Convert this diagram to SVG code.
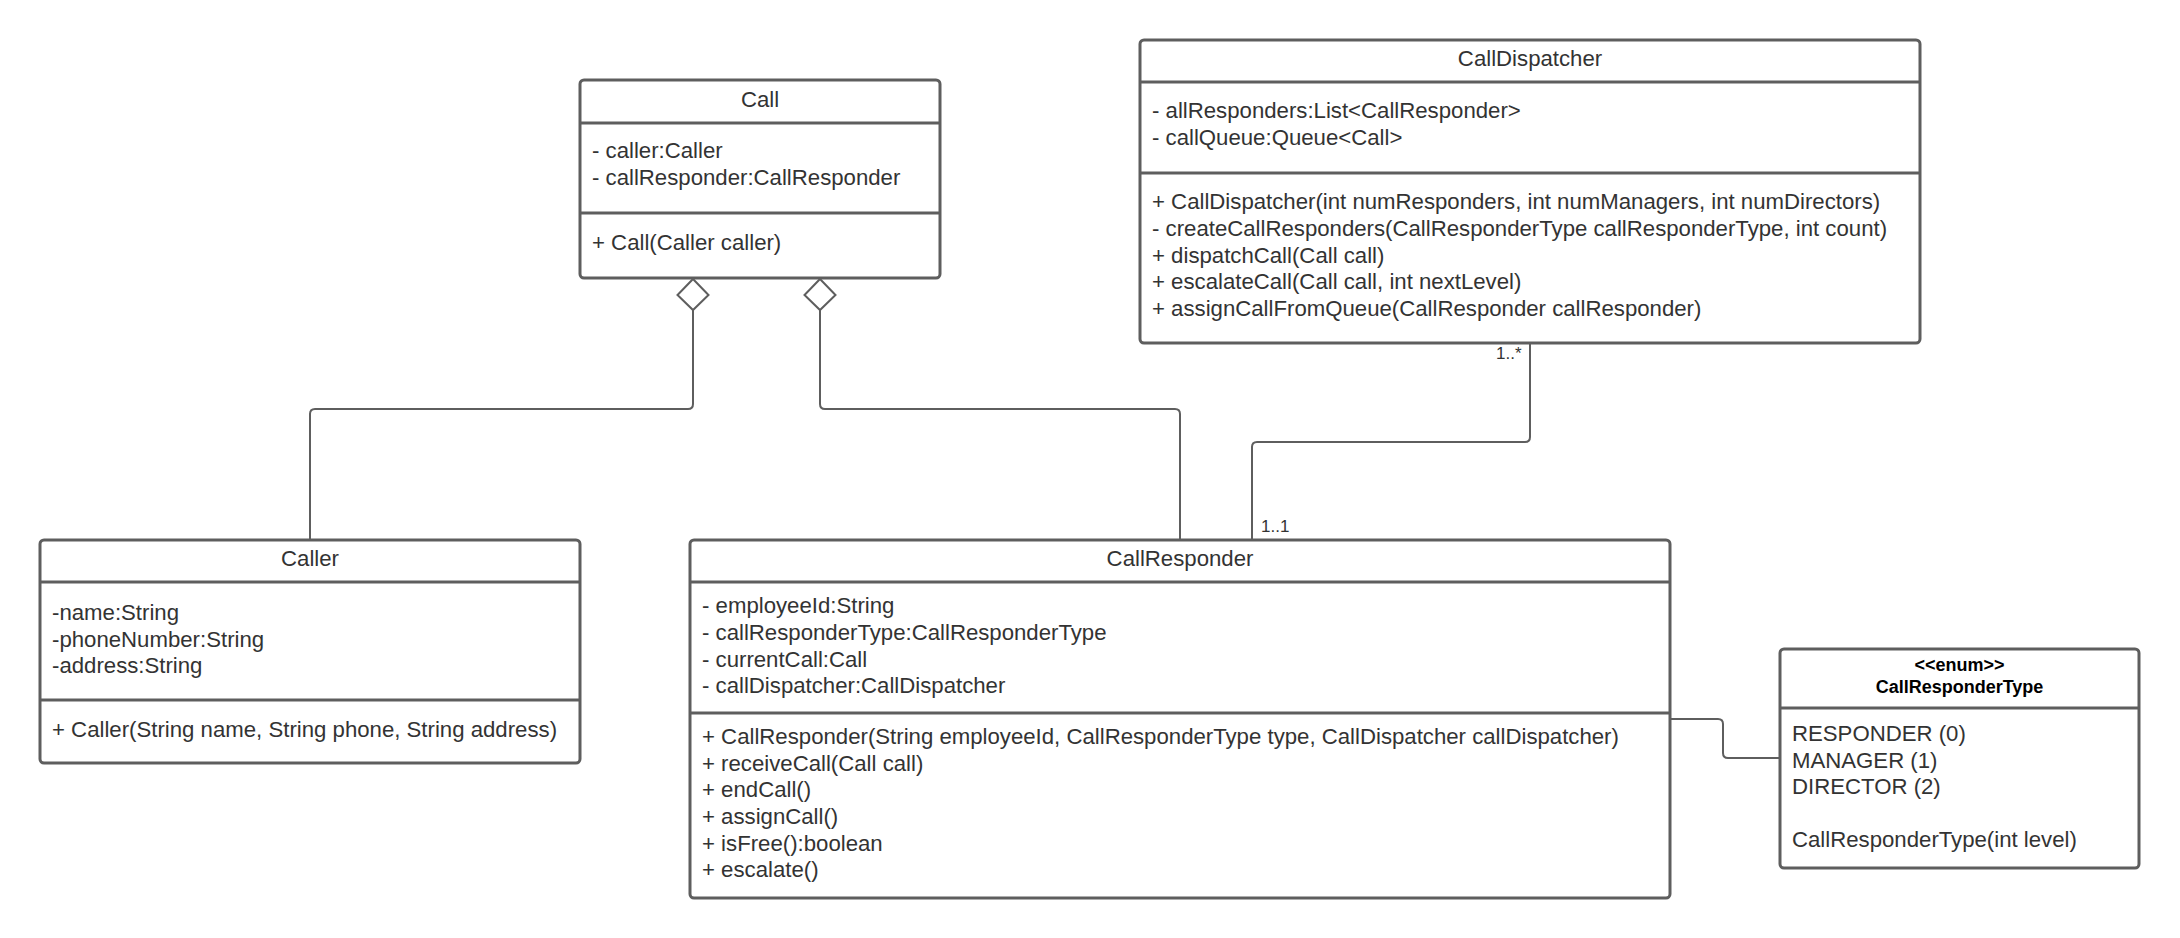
<svg xmlns="http://www.w3.org/2000/svg" width="2180" height="938" viewBox="0 0 2180 938">
<style>
.box{fill:#ffffff;stroke:#5e5e5e;stroke-width:3}
.sep{stroke:#5e5e5e;stroke-width:3}
.t{font-family:"Liberation Sans",Arial,sans-serif;font-size:22.2px;fill:#333333}
.c{text-anchor:middle}
.b{font-family:"Liberation Sans",Arial,sans-serif;font-size:18px;font-weight:bold;fill:#000000;text-anchor:middle}
.lbl{font-family:"Liberation Sans",Arial,sans-serif;font-size:17px;fill:#333333}
.conn{fill:none;stroke:#5e5e5e;stroke-width:2}
.dia{fill:#ffffff;stroke:#5e5e5e;stroke-width:2}
</style>
<rect width="2180" height="938" fill="#ffffff"/>
<g id="connectors">
<path class="conn" d="M310,540 V414 Q310,409 315,409 H688 Q693,409 693,404 V310"/>
<polygon class="dia" points="693,279 708.5,295 693,310 677.5,295"/>
<path class="conn" d="M1180,540 V414 Q1180,409 1175,409 H825 Q820,409 820,404 V310"/>
<polygon class="dia" points="820,279 835.5,295 820,310 804.5,295"/>
<path class="conn" d="M1530,343 V437 Q1530,442 1525,442 H1257 Q1252,442 1252,447 V540"/>
<text class="lbl" x="1496" y="359">1..*</text>
<text class="lbl" x="1261" y="532">1..1</text>
<path class="conn" d="M1670,719 H1718 Q1723,719 1723,724 V753 Q1723,758 1728,758 H1780"/>
</g>
<g id="call">
<rect class="box" x="580" y="80" width="360" height="198" rx="4"/>
<line class="sep" x1="580" y1="123" x2="940" y2="123"/>
<line class="sep" x1="580" y1="213" x2="940" y2="213"/>
<text class="t c" x="760" y="107">Call</text>
<text class="t" x="592" y="158">- caller:Caller</text>
<text class="t" x="592" y="185">- callResponder:CallResponder</text>
<text class="t" x="592" y="250">+ Call(Caller caller)</text>
</g>
<g id="calldispatcher">
<rect class="box" x="1140" y="40" width="780" height="303" rx="4"/>
<line class="sep" x1="1140" y1="82" x2="1920" y2="82"/>
<line class="sep" x1="1140" y1="173" x2="1920" y2="173"/>
<text class="t c" x="1530" y="66">CallDispatcher</text>
<text class="t" x="1152" y="118">- allResponders:List&lt;CallResponder&gt;</text>
<text class="t" x="1152" y="145">- callQueue:Queue&lt;Call&gt;</text>
<text class="t" x="1152" y="209">+ CallDispatcher(int numResponders, int numManagers, int numDirectors)</text>
<text class="t" x="1152" y="236">- createCallResponders(CallResponderType callResponderType, int count)</text>
<text class="t" x="1152" y="263">+ dispatchCall(Call call)</text>
<text class="t" x="1152" y="289">+ escalateCall(Call call, int nextLevel)</text>
<text class="t" x="1152" y="316">+ assignCallFromQueue(CallResponder callResponder)</text>
</g>
<g id="caller">
<rect class="box" x="40" y="540" width="540" height="223" rx="4"/>
<line class="sep" x1="40" y1="582" x2="580" y2="582"/>
<line class="sep" x1="40" y1="700" x2="580" y2="700"/>
<text class="t c" x="310" y="566">Caller</text>
<text class="t" x="52" y="620">-name:String</text>
<text class="t" x="52" y="647">-phoneNumber:String</text>
<text class="t" x="52" y="673">-address:String</text>
<text class="t" x="52" y="737">+ Caller(String name, String phone, String address)</text>
</g>
<g id="callresponder">
<rect class="box" x="690" y="540" width="980" height="358" rx="4"/>
<line class="sep" x1="690" y1="582" x2="1670" y2="582"/>
<line class="sep" x1="690" y1="713" x2="1670" y2="713"/>
<text class="t c" x="1180" y="566">CallResponder</text>
<text class="t" x="702" y="613">- employeeId:String</text>
<text class="t" x="702" y="640">- callResponderType:CallResponderType</text>
<text class="t" x="702" y="667">- currentCall:Call</text>
<text class="t" x="702" y="693">- callDispatcher:CallDispatcher</text>
<text class="t" x="702" y="744">+ CallResponder(String employeeId, CallResponderType type, CallDispatcher callDispatcher)</text>
<text class="t" x="702" y="771">+ receiveCall(Call call)</text>
<text class="t" x="702" y="797">+ endCall()</text>
<text class="t" x="702" y="824">+ assignCall()</text>
<text class="t" x="702" y="851">+ isFree():boolean</text>
<text class="t" x="702" y="877">+ escalate()</text>
</g>
<g id="callrespondertype">
<rect class="box" x="1780" y="649" width="359" height="219" rx="4"/>
<line class="sep" x1="1780" y1="708" x2="2139" y2="708"/>
<text class="b" x="1959.5" y="671">&lt;&lt;enum&gt;&gt;</text>
<text class="b" x="1959.5" y="693">CallResponderType</text>
<text class="t" x="1792" y="741">RESPONDER (0)</text>
<text class="t" x="1792" y="767.5">MANAGER (1)</text>
<text class="t" x="1792" y="794">DIRECTOR (2)</text>
<text class="t" x="1792" y="847">CallResponderType(int level)</text>
</g>
</svg>
